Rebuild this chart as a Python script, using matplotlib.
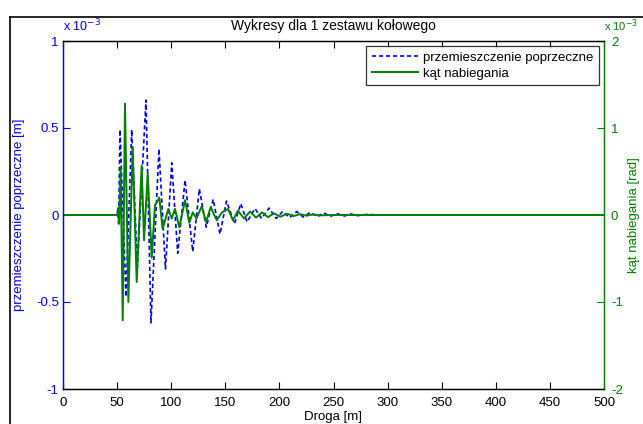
import matplotlib
matplotlib.use("Agg")
import matplotlib.pyplot as plt
from matplotlib.lines import Line2D
from matplotlib.ticker import FuncFormatter

plt.rcParams['font.family'] = ['Liberation Sans Narrow', 'Liberation Sans', 'DejaVu Sans']
plt.rcParams['axes.unicode_minus'] = False

# ---- data ----
title = "Wykresy dla 1 zestawu kołowego"
xlabel = "Droga [m]"
ylabel_left = "przemieszczenie poprzeczne [m]"
ylabel_right = "kąt nabiegania [rad]"
legend_labels = ["przemieszczenie poprzeczne", "kąt nabiegania"]

# lateral displacement [m] (extrema)
disp_x = [0, 49.9, 50.6, 51.4, 52.7, 58.2, 63.5, 68.7, 76.7, 81.3, 88.7, 94.7,
          100.5, 106.0, 112.8, 119.9, 126.0, 132.4, 138.8, 145.1, 151.1, 158.5,
          164.3, 170.1, 177.4, 183.6, 190.4, 196.9, 203.0, 209.5, 216.0, 222.0,
          228.5, 235.0, 241.0, 247.0, 253.5, 260.0, 266.0, 272.0, 280.0, 300.0, 500.0]
disp_y = [0, 0, 0.03e-3, -0.05e-3, 0.49e-3, -0.47e-3, 0.49e-3, -0.30e-3, 0.66e-3,
          -0.62e-3, 0.38e-3, -0.31e-3, 0.30e-3, -0.22e-3, 0.20e-3, -0.21e-3,
          0.15e-3, -0.07e-3, 0.09e-3, -0.11e-3, 0.08e-3, -0.05e-3, 0.065e-3,
          -0.04e-3, 0.037e-3, -0.02e-3, 0.04e-3, -0.02e-3, 0.02e-3, -0.015e-3,
          0.02e-3, -0.012e-3, 0.015e-3, -0.01e-3, 0.012e-3, -0.008e-3, 0.008e-3,
          -0.006e-3, 0.006e-3, -0.004e-3, 0.003e-3, 0.0, 0.0]

# yaw angle [rad] (extrema)
ang_x = [0, 50.3, 51.0, 51.8, 53.3, 55.2, 57.3, 60.4, 64.4, 68.1, 72.7, 74.9,
         78.3, 82.0, 85.0, 89.0, 92.1, 97.3, 100.5, 103.5, 107.5, 112.8, 116.7,
         119.9, 123.4, 128.2, 132.2, 136.5, 142.1, 147.0, 152.5, 157.1, 161.7,
         167.3, 172.8, 178.4, 184.0, 189.5, 195.0, 201.0, 207.0, 213.0, 219.0,
         225.0, 231.0, 238.0, 250.0, 500.0]
ang_y = [0, 0, 0.08e-3, -0.10e-3, 0.55e-3, -1.21e-3, 1.28e-3, -1.00e-3, 0.78e-3,
         -0.77e-3, 0.57e-3, -0.29e-3, 0.48e-3, -0.49e-3, 0.11e-3, 0.20e-3,
         -0.16e-3, 0.07e-3, -0.04e-3, 0.07e-3, -0.14e-3, 0.17e-3, -0.09e-3,
         0.03e-3, -0.04e-3, 0.10e-3, -0.08e-3, 0.09e-3, -0.06e-3, 0.03e-3,
         0.07e-3, -0.06e-3, 0.05e-3, -0.04e-3, 0.04e-3, -0.03e-3, 0.03e-3,
         -0.025e-3, 0.02e-3, -0.02e-3, 0.015e-3, -0.012e-3, 0.01e-3, -0.008e-3,
         0.006e-3, -0.004e-3, 0.0, 0.0]

x_ticks = [0, 50, 100, 150, 200, 250, 300, 350, 400, 450, 500]
left_ticks = [-1e-3, -0.5e-3, 0, 0.5e-3, 1e-3]
right_ticks = [-2e-3, -1e-3, 0, 1e-3, 2e-3]

BLUE = (0, 0, 1)
GREEN = (0, 0.5, 0)
fs = 9.5

fig = plt.figure(figsize=(6.43, 4.24), dpi=100)
W, H = 643, 424
ax1 = fig.add_axes([63 / W, 35 / H, 541 / W, 348 / H])
ax2 = ax1.twinx()

l1, = ax1.plot(disp_x, disp_y, color=BLUE, lw=1.2, linestyle=(0, (2.5, 1.7)))
l2, = ax2.plot(ang_x, ang_y, color=GREEN, lw=1.4)

ax1.set_xlim(0, 500)
ax1.set_ylim(-1e-3, 1e-3)
ax2.set_ylim(-2e-3, 2e-3)
ax1.set_xticks(x_ticks)
ax1.set_yticks(left_ticks)
ax2.set_yticks(right_ticks)

fmt = FuncFormatter(lambda v, p: ('%g' % round(v * 1e3, 6)))
ax1.yaxis.set_major_formatter(fmt)
ax2.yaxis.set_major_formatter(fmt)

ax1.tick_params(axis='x', direction='in', top=True, length=5, labelsize=fs, colors='black', pad=6)
ax1.tick_params(axis='y', direction='in', length=5, labelsize=fs, colors=BLUE, pad=3)
ax2.tick_params(axis='y', direction='in', length=5, labelsize=fs, colors=GREEN, pad=5)

for ax in (ax1, ax2):
    for s in ax.spines.values():
        s.set_linewidth(0.9)
ax1.spines['left'].set_color(BLUE)
ax2.spines['left'].set_color(BLUE)
ax1.spines['right'].set_color(GREEN)
ax2.spines['right'].set_color(GREEN)
ax1.spines['top'].set_color('black')
ax2.spines['top'].set_color('black')

ax1.set_xlabel(xlabel, fontsize=fs, labelpad=1)
ax1.set_ylabel(ylabel_left, fontsize=fs, color=BLUE, labelpad=8)
ax2.set_ylabel(ylabel_right, fontsize=fs, color=GREEN, labelpad=4)
ax1.set_title(title, fontsize=fs + 0.5, pad=8)

ax1.text(0.0, 1.02, r'x 10$^{-3}$', transform=ax1.transAxes, color=BLUE,
         fontsize=fs - 0.5, ha='left', va='bottom')
ax2.text(1.0, 1.02, r'x 10$^{-3}$', transform=ax2.transAxes, color=GREEN,
         fontsize=fs - 1.5, ha='left', va='bottom')

leg = ax2.legend([l1, l2], legend_labels, loc='upper right', fontsize=fs,
                 frameon=True, fancybox=False, edgecolor='black',
                 borderaxespad=0.4, handlelength=3.5, handletextpad=0.4,
                 borderpad=0.4, labelspacing=0.3)
leg.get_frame().set_linewidth(0.9)

# outer screenshot frame
fig.add_artist(Line2D([10 / W, 10 / W], [0, 1 - 17 / H], transform=fig.transFigure,
                      color='black', lw=1.2))
fig.add_artist(Line2D([10 / W, 1], [1 - 17 / H, 1 - 17 / H], transform=fig.transFigure,
                      color='black', lw=1.2))

fig.savefig('out.png', dpi=100)
